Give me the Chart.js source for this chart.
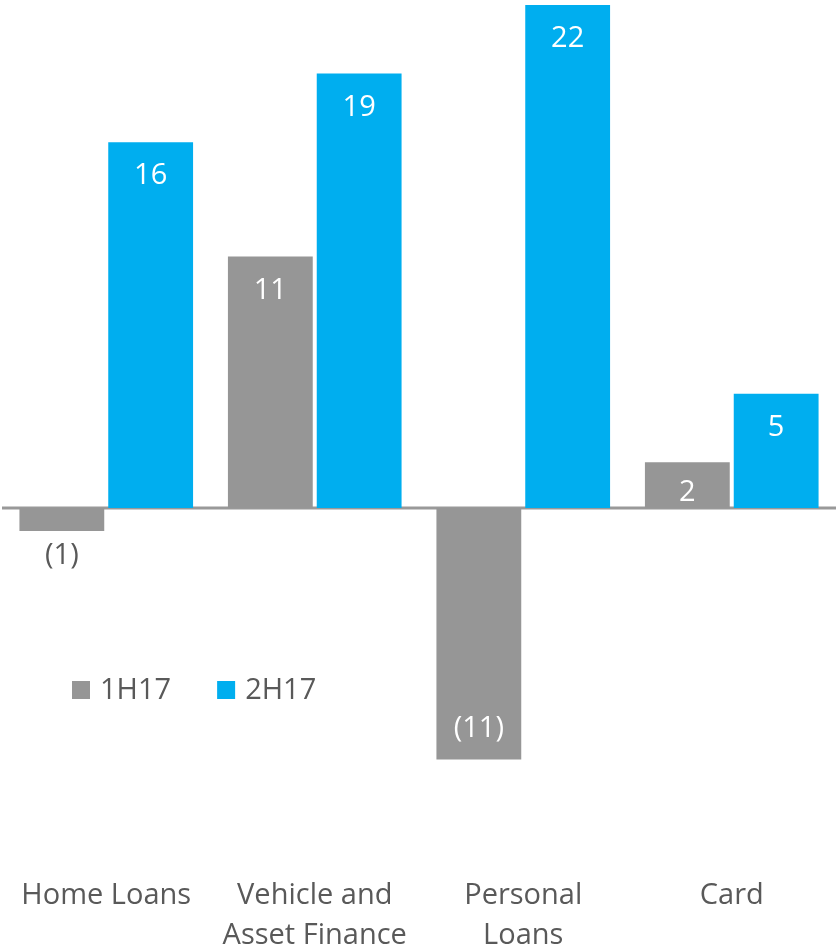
<!DOCTYPE html>
<html lang="en">
<head>
  <meta charset="UTF-8" />
  <title>Lending growth</title>
  <script src="https://cdn.jsdelivr.net/npm/chart.js"></script>
  <style>
    body { margin: 0; background: #fff; }
    .chart-box { width: 836px; height: 950px; }
  </style>
</head>
<body>
  <div class="chart-box">
    <canvas id="growthChart" width="836" height="950"></canvas>
  </div>
  <script>
    const categories = [['Home Loans'], ['Vehicle and', 'Asset Finance'], ['Personal', 'Loans'], ['Card']];
    const seriesNames = ['1H17', '2H17'];
    const firstHalf = [-1, 11, -11, 2];
    const secondHalf = [16, 19, 22, 5];

    const GREY = '#969696';
    const BLUE = '#00AEEF';
    const TEXT = '#595959';
    const FONT = '"Open Sans", "Noto Sans", sans-serif';
    const SIZE = 29;

    // zero line across the plot
    const zeroLine = {
      id: 'zeroLine',
      beforeDatasetsDraw(chart) {
        const ctx = chart.ctx;
        const y = chart.scales.y.getPixelForValue(0);
        ctx.save();
        ctx.strokeStyle = '#999999';
        ctx.lineWidth = 3;
        ctx.beginPath();
        ctx.moveTo(chart.chartArea.left, y);
        ctx.lineTo(chart.chartArea.right, y);
        ctx.stroke();
        ctx.restore();
      }
    };

    // value labels: white inside the bar, dark below it when the bar is too short
    const barLabels = {
      id: 'barLabels',
      afterDatasetsDraw(chart) {
        const ctx = chart.ctx;
        ctx.save();
        ctx.font = SIZE + 'px ' + FONT;
        ctx.textAlign = 'center';
        ctx.textBaseline = 'middle';
        chart.data.datasets.forEach((ds, i) => {
          chart.getDatasetMeta(i).data.forEach((bar, j) => {
            const v = ds.data[j];
            const text = v < 0 ? '(' + Math.abs(v) + ')' : String(v);
            const h = Math.abs(bar.base - bar.y);
            let y;
            if (v >= 0) {
              ctx.fillStyle = '#fff';
              y = Math.min(bar.y + 34, bar.base - 15);
            } else if (h < 40) {
              ctx.fillStyle = TEXT;
              y = bar.y + 25;
            } else {
              ctx.fillStyle = '#fff';
              y = bar.y - 31;
            }
            ctx.fillText(text, bar.x, y);
          });
        });
        ctx.restore();
      }
    };

    const floatLegend = {
      id: 'floatLegend',
      afterDraw(chart, args, opts) {
        const ctx = chart.ctx;
        ctx.save();
        ctx.font = SIZE + 'px ' + FONT;
        ctx.textBaseline = 'middle';
        let x = opts.x;
        chart.data.datasets.forEach(ds => {
          ctx.fillStyle = ds.backgroundColor;
          ctx.fillRect(x, opts.y - 9, 18, 18);
          ctx.fillStyle = TEXT;
          ctx.fillText(ds.label, x + 28, opts.y + 1);
          x += 28 + ctx.measureText(ds.label).width + 46;
        });
        ctx.restore();
      }
    };

    new Chart(document.getElementById('growthChart'), {
      type: 'bar',
      data: {
        labels: categories,
        datasets: [
          { label: seriesNames[0], data: firstHalf, backgroundColor: GREY },
          { label: seriesNames[1], data: secondHalf, backgroundColor: BLUE }
        ]
      },
      options: {
        responsive: false,
        animation: false,
        layout: { padding: { left: 2, right: 0, top: 5, bottom: 0 } },
        datasets: { bar: { categoryPercentage: 0.852, barPercentage: 0.955 } },
        plugins: {
          legend: { display: false },
          tooltip: { enabled: false },
          floatLegend: { x: 72, y: 690 }
        },
        scales: {
          x: {
            grid: { display: false },
            border: { display: false },
            ticks: {
              color: TEXT,
              font: { family: FONT, size: SIZE, lineHeight: 1.38 },
              padding: 43,
              maxRotation: 0,
              autoSkip: false
            },
            afterFit: scale => {
              scale.height = 125;
              scale.paddingLeft = 0;
              scale.paddingRight = 0;
            }
          },
          y: {
            display: false,
            min: -13.86,
            max: 22
          }
        }
      },
      plugins: [zeroLine, barLabels, floatLegend]
    });
  </script>
</body>
</html>
